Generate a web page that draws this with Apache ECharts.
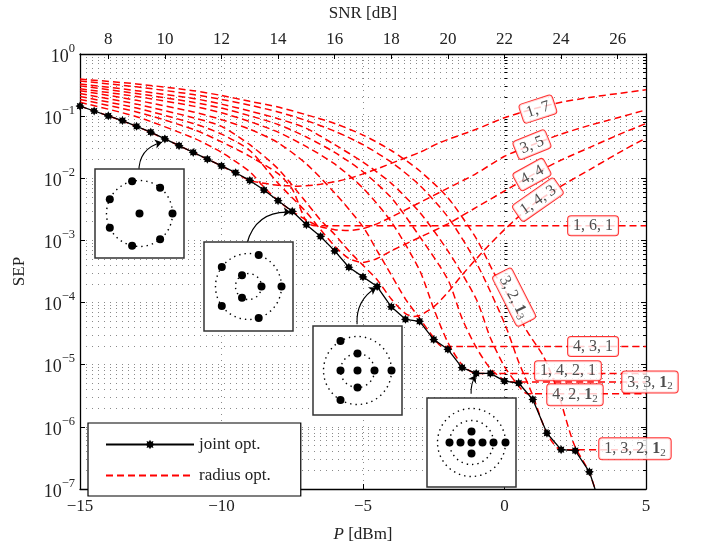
<!DOCTYPE html>
<html><head><meta charset="utf-8">
<script src="https://cdn.jsdelivr.net/npm/echarts@6/dist/echarts.min.js"></script>
<style>html,body{margin:0;padding:0;background:#fff}#c{width:702px;height:548px}</style>
</head><body><div id="c"></div>
<script>
// ---------- data ----------
const powerDBm = [-15,-14.5,-14,-13.5,-13,-12.5,-12,-11.5,-11,-10.5,-10,-9.5,-9,-8.5,-8,-7.5,-7,-6.5,-6,-5.5,-5,-4.5,-4,-3.5,-3,-2.5,-2,-1.5,-1,-0.5,0,0.5,1,1.5,2,2.5,3,3.5];
const jointSEP = [0.145,0.121,0.101,0.0849,0.0685,0.0552,0.0430,0.0335,0.0261,0.0203,0.0158,0.0123,0.00924,0.00647,0.00436,0.00294,0.00179,0.00116,6.79e-4,3.70e-4,2.59e-4,1.81e-4,8.55e-5,5.37e-5,5.00e-5,2.54e-5,1.77e-5,8.98e-6,7.25e-6,7.25e-6,5.45e-6,5.07e-6,2.76e-6,7.90e-7,4.30e-7,4.15e-7,1.89e-7,3.78e-8];

// radius-optimised curves: [P (dBm), SEP]
const r_1_7 = [[-15,0.145],[-14,0.101],[-13,0.0685],[-12,0.0430],[-11,0.0261],[-10,0.0158],[-9,0.00924],[-8.5,0.0083],[-8,0.00773],[-7.3,0.00746],[-6.5,0.00801],[-5.5,0.00993],[-4.5,0.0142],[-3.8,0.0189],[-3,0.0261],[-2.3,0.0373],[-1,0.0615],[0,0.0944],[1,0.130],[2,0.167],[3,0.200],[4,0.231],[5,0.266]];
const r_3_5 = [[-15,0.167],[-13,0.0979],[-11,0.0446],[-10,0.0261],[-9,0.01275],[-8.5,0.0072],[-8,0.00436],[-7.5,0.00294],[-7,0.00213],[-6.5,0.00166],[-6,0.00149],[-5.5,0.00144],[-5,0.00155],[-4.5,0.00185],[-4,0.00238],[-3,0.00406],[-2,0.00694],[-1,0.0119],[0,0.0226],[1,0.0347],[2,0.0514],[3,0.0710],[4,0.0944],[5,0.126]];
const r_1_6_1 = [[-15,0.186],[-13,0.117],[-11,0.0615],[-10,0.0386],[-9,0.0226],[-8,0.0119],[-7.5,0.0067],[-7,0.00199],[-6.7,0.00172],[-5,0.00172],[0,0.00172],[5,0.00172]];
const r_4_4 = [[-15,0.207],[-13,0.135],[-11,0.0762],[-10,0.0514],[-9,0.0280],[-8,0.0083],[-7,0.00284],[-6.5,0.00149],[-6,8.13e-4],[-5.5,5.11e-4],[-5,4.43e-4],[-4.5,5.11e-4],[-4,6.79e-4],[-3,0.00112],[-2,0.00185],[-1,0.0034],[0,0.00624],[1,0.01146],[2,0.0196],[3,0.0312],[4,0.0496],[5,0.0762]];
const r_1_4_3 = [[-15,0.231],[-13,0.156],[-11,0.0944],[-10,0.0684],[-9,0.0347],[-8,0.0142],[-7,0.00406],[-6.5,0.00213],[-6,0.00125],[-5.5,6.79e-4],[-5,3.98e-4],[-4.5,2.33e-4],[-4,1.14e-4],[-3.5,6.65e-5],[-3.2,5.97e-5],[-3,6.19e-5],[-2.5,8.54e-5],[-2,1.46e-4],[-1.5,2.78e-4],[-0.8,6.33e-4],[0,0.00149],[1,0.00378],[2,0.00746],[3,0.0137],[4,0.0252],[5,0.0446]];
const r_4_3_1 = [[-15,0.257],[-13,0.180],[-11,0.117],[-10,0.0879],[-9,0.0615],[-8,0.0373],[-7,0.0170],[-6,0.00581],[-5,0.00166],[-4.5,6.79e-4],[-4,2.78e-4],[-3.5,1.14e-4],[-3,5.56e-5],[-2.5,2.72e-5],[-2.2,1.97e-5],[0,1.97e-5],[5,1.97e-5]];
const r_1_4_2_1 = [[-15,0.276],[-13,0.207],[-11,0.145],[-10,0.113],[-9,0.0818],[-8,0.0552],[-7,0.0323],[-6,0.0170],[-5,0.00694],[-4,0.00199],[-3,3.32e-4],[-2.5,7.95e-5],[-2,2.28e-5],[-1.5,1.0e-5],[-1,7.25e-6],[2,7.25e-6],[5,7.25e-6]];
const r_3_3_12 = [[-15,0.307],[-13,0.231],[-11,0.167],[-10,0.135],[-9,0.1014],[-8,0.0735],[-7,0.0462],[-6,0.0261],[-5,0.01275],[-4,0.00486],[-3,0.00116],[-2,2.33e-4],[-1.5,5.56e-5],[-1,1.90e-5],[-0.5,8.67e-6],[0,5.64e-6],[0.3,5.25e-6],[3,5.25e-6],[5,5.25e-6]];
const r_4_2_12 = [[-15,0.330],[-13,0.257],[-11,0.193],[-10,0.156],[-9,0.121],[-8,0.0911],[-7,0.0637],[-6,0.0347],[-5,0.0182],[-4,0.0083],[-3,0.00284],[-2,6.79e-4],[-1,1.14e-4],[-0.5,2.72e-5],[0,9.31e-6],[0.5,4.56e-6],[0.8,3.42e-6],[3,3.42e-6],[5,3.42e-6]];
const r_1_3_2_12 = [[-15,0.367],[-13,0.296],[-11,0.223],[-10,0.186],[-9,0.150],[-8,0.117],[-7,0.0848],[-6,0.0573],[-5,0.0347],[-4,0.0182],[-3,0.00773],[-2,0.00238],[-1,4.43e-4],[0,4.65e-5],[0.5,1.11e-5],[1,3.18e-6],[1.5,7.9e-7],[2,4.3e-7],[4,4.3e-7],[5,4.3e-7]];
const r_3_2_13 = [[-15,0.395],[-13,0.330],[-11,0.257],[-10,0.215],[-9,0.173],[-8,0.140],[-7,0.1051],[-6,0.0762],[-5,0.0496],[-4,0.0280],[-3,0.0132],[-2,0.00486],[-1,0.00108],[-0.37,2.99e-4],[0,1.63e-4],[0.79,3.5e-5],[1.39,1.33e-5],[1.85,4.09e-6],[2.45,5.33e-7],[3,1.82e-7],[3.5,3.78e-8]];
const radiusCurves = [r_1_7,r_3_5,r_1_6_1,r_4_4,r_1_4_3,r_4_3_1,r_1_4_2_1,r_3_3_12,r_4_2_12,r_1_3_2_12,r_3_2_13];

// curve labels: text, anchor [P, SEP], rotation
const curveLabelText = ['{t|1, 7}','{t|3, 5}','{t|4, 4}','{t|1, 4, 3}','{t|1, 6, 1}','{t|3, 2, }{b|1}{s|3}','{t|4, 3, 1}','{t|1, 4, 2, 1}','{t|3, 3, }{b|1}{s|2}','{t|4, 2, }{b|1}{s|2}','{t|1, 3, 2, }{b|1}{s|2}'];
const curveLabelPos = [[1.18,0.130],[0.97,0.0347],[0.97,0.0115],[1.18,0.00452],[3.13,0.00172],[0.34,1.22e-4],[3.13,1.97e-5],[2.24,8.0e-6],[5.14,5.25e-6],[2.49,3.3e-6],[4.61,4.45e-7]];
const curveLabelRot = [18,22,29,35,0,-63,0,0,0,0,0];

// axes ticks
const snrTicks = [8,10,12,14,16,18,20,22,24,26];
const decadeTicks = [1e-7,1e-6,1e-5,1e-4,1e-3,1e-2,1e-1,1];
const minorMant = [2,3,4,5,6,7,8,9];

// constellation insets (relative positions, px units)
const const_1_7 = [[0,0],[33,0],[20.6,25.8],[-7.4,32.2],[-29.7,14.3],[-29.7,-14.3],[-7.4,-32.2],[20.6,-25.8]];
const rings_1_7 = [33];
const const_3_5 = [[13,0],[-6.5,11.3],[-6.5,-11.3],[33,0],[10.2,31.4],[-26.7,19.4],[-26.7,-19.4],[10.2,-31.4]];
const rings_3_5 = [13,33];
const const_1_4_3 = [[0,0],[0,17],[17,0],[0,-17],[-17,0],[34,0],[-17,29.4],[-17,-29.4]];
const rings_1_4_3 = [17,34];
const const_1_4_2_1 = [[0,0],[11,0],[-11,0],[0,11],[0,-11],[22,0],[-22,0],[34,0]];
const rings_1_4_2_1 = [22,34];
// inset arrows: [start, end] in [P, SEP]
const arrowCoords = [[[-12.92,0.0123],[-12.1,0.038]],[[-9.1,9.05e-4],[-7.56,0.00284]],[[-5.21,4.49e-5],[-4.53,1.75e-4]],[[-1.18,3.42e-6],[-1.02,6.75e-6]]];

// ---------- chart ----------
const FONT = "'Liberation Serif','DejaVu Serif',serif";
const minorVals = [];
for (let k = -7; k < 0; k++) for (const m of minorMant) minorVals.push(+(m * Math.pow(10, k)).toPrecision(3));
const dotted = {type:[1,5], color:'#8a8a8a', width:1};
const STAR = 'path://M0,-10L2.4,-5.8L7.1,-7.1L5.8,-2.4L10,0L5.8,2.4L7.1,7.1L2.4,5.8L0,10L-2.4,5.8L-7.1,7.1L-5.8,2.4L-10,0L-5.8,-2.4L-7.1,-7.1L-2.4,-5.8Z';

const chart = echarts.init(document.getElementById('c'), null, {renderer:'canvas'});

const insets = [
  {left:95, top:169, pts:const_1_7, rings:rings_1_7},
  {left:204, top:242, pts:const_3_5, rings:rings_3_5},
  {left:313, top:326, pts:const_1_4_3, rings:rings_1_4_3},
  {left:427, top:398, pts:const_1_4_2_1, rings:rings_1_4_2_1}
];

const grids = [{left:80, top:46, width:566, height:451, show:false}];
const xAxes = [
  {gridIndex:0, type:'value', min:-15, max:5, interval:5, position:'bottom',
   axisLine:{show:true, onZero:false, lineStyle:{color:'#000', width:1.3}},
   axisTick:{inside:true, length:5, lineStyle:{color:'#000'}},
   axisLabel:{color:'#222', fontSize:17, fontFamily:FONT, margin:9, formatter:v=>String(v).replace('-','\u2212')},
   splitLine:{show:true, lineStyle:dotted},
   name:'{i|P} [dBm]', nameLocation:'middle', nameGap:37,
   nameTextStyle:{color:'#222', fontSize:17, fontFamily:FONT, rich:{i:{fontStyle:'italic', fontSize:17, fontFamily:FONT, color:'#222'}}}},
  {gridIndex:0, type:'value', min:7, max:27, position:'top',
   axisLine:{show:true, onZero:false, lineStyle:{color:'#000', width:1.3}},
   axisTick:{inside:true, length:5, customValues:snrTicks, lineStyle:{color:'#000'}},
   axisLabel:{customValues:snrTicks, color:'#222', fontSize:17, fontFamily:FONT, margin:6},
   splitLine:{show:false},
   name:'SNR [dB]', nameLocation:'middle', nameGap:32,
   nameTextStyle:{color:'#222', fontSize:17, fontFamily:FONT}}
];
const supFmt = v => { const e = Math.round(Math.log10(v)); return '{b|10}{e|' + (e === 0 ? '0' : '\u2212' + (-e)) + '}'; };
const yAxes = [
  {gridIndex:0, type:'log', logBase:10, min:1e-7, max:1, position:'left',
   axisLine:{show:true, onZero:false, lineStyle:{color:'#000', width:1.3}},
   axisTick:{inside:true, length:5, customValues:decadeTicks, lineStyle:{color:'#000'}},
   axisLabel:{customValues:decadeTicks, formatter:supFmt, margin:5, color:'#222',
     rich:{b:{fontSize:18, fontFamily:FONT, color:'#222', lineHeight:24, verticalAlign:'bottom'},
           e:{fontSize:12.5, fontFamily:FONT, color:'#222', lineHeight:24, verticalAlign:'top'}}},
   splitLine:{show:true, lineStyle:dotted},
   name:'SEP', nameLocation:'middle', nameGap:52, nameRotate:90,
   nameTextStyle:{color:'#222', fontSize:17, fontFamily:FONT}},
  {gridIndex:0, type:'log', logBase:10, min:1e-7, max:1, position:'left',
   axisLine:{show:false}, axisLabel:{show:false},
   axisTick:{inside:true, length:3, customValues:minorVals, lineStyle:{color:'#000'}},
   splitLine:{show:true, lineStyle:dotted}},
  {gridIndex:0, type:'log', logBase:10, min:1e-7, max:1, position:'right',
   axisLine:{show:true, onZero:false, lineStyle:{color:'#000', width:1.3}}, axisLabel:{show:false},
   axisTick:{inside:true, length:5, customValues:decadeTicks, lineStyle:{color:'#000'}},
   splitLine:{show:false}},
  {gridIndex:0, type:'log', logBase:10, min:1e-7, max:1, position:'right',
   axisLine:{show:false}, axisLabel:{show:false},
   axisTick:{inside:true, length:3, customValues:minorVals, lineStyle:{color:'#000'}},
   splitLine:{show:false}}
];

const series = [];
radiusCurves.forEach(c => series.push({
  name:'radius opt.', type:'line', xAxisIndex:0, yAxisIndex:0, data:c,
  smooth:0.25, showSymbol:false, symbol:'none', z:3,
  lineStyle:{color:'#ff0000', width:1.5, type:[7,4]}, itemStyle:{color:'#ff0000'}
}));
series.push({
  name:'joint opt.', type:'line', xAxisIndex:0, yAxisIndex:0,
  data: powerDBm.map((p,i) => i === powerDBm.length-1 ? {value:[p, jointSEP[i]], symbol:'none'} : [p, jointSEP[i]]),
  symbol:STAR, symbolSize:9, showSymbol:true, z:5,
  lineStyle:{color:'#000', width:1.3}, itemStyle:{color:'#000'}
});
series.push({
  type:'scatter', xAxisIndex:0, yAxisIndex:0, z:8, clip:false, silent:true,
  symbolSize:1, itemStyle:{color:'rgba(0,0,0,0)'},
  data: curveLabelPos.map((p,i) => ({value:p, label:{show:true, position:'inside', rotate:curveLabelRot[i], formatter:curveLabelText[i]}})),
  label:{show:true, backgroundColor:'#fff', borderColor:'#ff0000', borderWidth:1, borderRadius:3, padding:[2,5,1,5],
    rich:{t:{fontSize:16, fontFamily:FONT, color:'#222'}, b:{fontSize:16, fontFamily:FONT, fontWeight:'bold', color:'#222'},
          s:{fontSize:11, fontFamily:FONT, color:'#222', padding:[7,0,0,0]}}}
});
series.push({
  type:'lines', coordinateSystem:'cartesian2d', xAxisIndex:0, yAxisIndex:0, z:9, silent:true,
  symbol:['none','arrow'], symbolSize:[0,7],
  lineStyle:{color:'#000', width:1.1, curveness:0.4, opacity:1},
  data: arrowCoords.map((c,i) => ({coords:c, lineStyle:{curveness:[0.4,0.4,0.3,0.15][i]}}))
});

insets.forEach((ins, k) => {
  grids.push({left:ins.left, top:ins.top, width:89, height:89, show:true, backgroundColor:'#fff', borderColor:'#333', borderWidth:1.5, z:10});
  xAxes.push({gridIndex:k+1, type:'value', min:-44.5, max:44.5, show:false});
  yAxes.push({gridIndex:k+1, type:'value', min:-44.5, max:44.5, show:false});
  series.push({type:'scatter', xAxisIndex:k+2, yAxisIndex:k+4, z:11, silent:true,
    data: ins.rings.map(r => ({value:[0,0], symbolSize:2*r})), symbol:'circle',
    itemStyle:{color:'rgba(0,0,0,0)', borderColor:'#000', borderWidth:1.4, borderType:[1.4,4], opacity:1}});
  series.push({type:'scatter', xAxisIndex:k+2, yAxisIndex:k+4, z:12, silent:true,
    data: ins.pts, symbol:'circle', symbolSize:8, itemStyle:{color:'#000', opacity:1}});
});

chart.setOption({
  animation:false, backgroundColor:'#fff',
  grid:grids, xAxis:xAxes, yAxis:yAxes, series:series,
  legend:{data:[{name:'joint opt.'},{name:'radius opt.', itemStyle:{opacity:0}}], orient:'vertical', left:88, top:423, z:20,
    itemWidth:88, itemHeight:12, itemGap:14, padding:[13,30,12,17],
    backgroundColor:'#fff', borderColor:'#000', borderWidth:1.2, borderRadius:0,
    textStyle:{fontSize:17, fontFamily:FONT, color:'#222'}}
});
</script></body></html>
